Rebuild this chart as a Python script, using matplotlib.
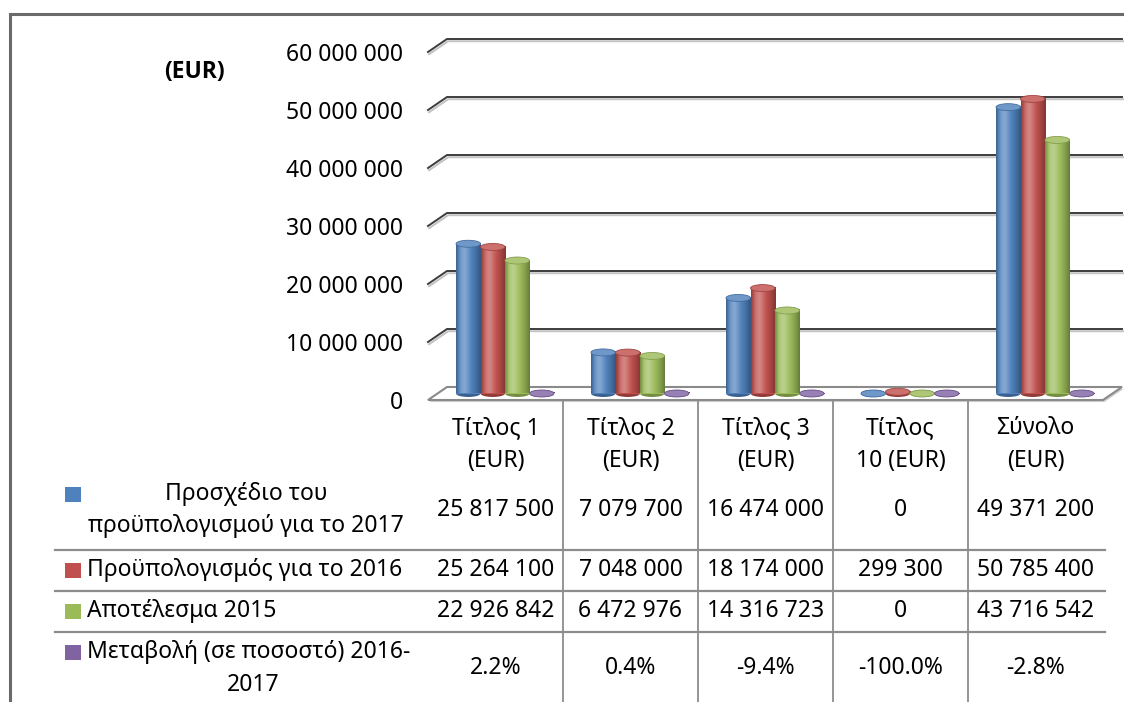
import numpy as np
import matplotlib
matplotlib.use("Agg")
import matplotlib.pyplot as plt
import matplotlib.transforms as mtransforms
from matplotlib.patches import Ellipse, Rectangle, Polygon
from matplotlib.lines import Line2D
import matplotlib.patheffects as pe

# ---------------- data ----------------
categories = ["Τίτλος 1\n(EUR)", "Τίτλος 2\n(EUR)", "Τίτλος 3\n(EUR)",
              "Τίτλος\n10 (EUR)", "Σύνολο\n(EUR)"]
series_names = ["Προσχέδιο του\nπροϋπολογισμού για το 2017",
                "Προϋπολογισμός για το 2016",
                "Αποτέλεσμα 2015",
                "Μεταβολή (σε ποσοστό) 2016-\n2017"]
draft_2017 = [25817500, 7079700, 16474000, 0, 49371200]
budget_2016 = [25264100, 7048000, 18174000, 299300, 50785400]
result_2015 = [22926842, 6472976, 14316723, 0, 43716542]
change_pct = [2.2, 0.4, -9.4, -100.0, -2.8]
y_ticks = [0, 10000000, 20000000, 30000000, 40000000, 50000000, 60000000]
unit_label = "(EUR)"

colors = ["#4F81BD", "#C0504D", "#9BBB59", "#8064A2"]

plt.rcParams['font.family'] = ['Noto Sans', 'DejaVu Sans']
FS = 16.5
TXT = "#000000"

W_PX, H_PX = 1124, 702
fig = plt.figure(figsize=(W_PX / 100, H_PX / 100), dpi=100)
fig.patch.set_facecolor("white")


def fx(px):
    return px / W_PX


def fy(py):
    return 1 - py / H_PX


# front plane of the 3D box: x 428..1103 px, y 400 (0) .. 52 (60M)
ax = fig.add_axes([fx(428), fy(400), 675 / W_PX, 348 / H_PX])
ax.patch.set_alpha(0)
for s in ax.spines.values():
    s.set_visible(False)

YMAX = y_ticks[-1]
ncat = len(categories)
DX = 19 / 135.0                 # depth offset in category units
DY = 13 / 348.0 * YMAX          # depth offset in value units
BW = 24.5 / 135.0               # bar width
EH = 7 / 348.0 * YMAX           # ellipse height (cylinder caps)

# ---- back wall gridlines ----
shadow = [pe.SimpleLineShadow(offset=(0.8, -1.6), shadow_color="#9a9a9a", alpha=0.6), pe.Normal()]
for v in y_ticks[1:]:
    ax.plot([-0.5, -0.5 + DX, ncat - 0.5 + DX], [v, v + DY, v + DY],
            color="#3c3c3c", lw=1.4, clip_on=False, zorder=1,
            solid_joinstyle="miter", path_effects=shadow)

# ---- floor ----
floor = Polygon([(-0.5, 0), (ncat - 0.5, 0), (ncat - 0.5 + DX, DY), (-0.5 + DX, DY)],
                closed=True, facecolor="white", edgecolor="#8a8a8a", lw=1.5,
                zorder=2, clip_on=False,
                path_effects=[pe.SimplePatchShadow(offset=(1, -1.5), shadow_rgbFace="#b0b0b0", alpha=0.6), pe.Normal()])
ax.add_patch(floor)


# ---- cylinders ----
def shade_img(hexcol):
    base = np.array(matplotlib.colors.to_rgb(hexcol))
    t = np.linspace(0, 1, 80)
    hi = 0.30 * np.exp(-((t - 0.33) / 0.20) ** 2)
    dk = 0.34 * np.clip((t - 0.55) / 0.45, 0, 1) ** 1.5 + 0.25 * np.clip((0.15 - t) / 0.15, 0, 1)
    rgb = base[None, :] + hi[:, None] * (1 - base[None, :])
    rgb = rgb * (1 - dk[:, None])
    return np.clip(rgb[None, :, :], 0, 1)


def mix(hexcol, other, f):
    a = np.array(matplotlib.colors.to_rgb(hexcol))
    b = np.array(matplotlib.colors.to_rgb(other))
    return tuple(a * (1 - f) + b * f)


series_vals = [np.array(draft_2017, float), np.array(budget_2016, float),
               np.array(result_2015, float), np.array(change_pct, float) / 100.0]

xc = np.arange(ncat)
for k, vals in enumerate(series_vals):
    xs = xc + (k - 1.5) * BW + DX / 2
    col = colors[k]
    z = 5 + k * 0.1
    # bottom cap
    for x, v in zip(xs, vals):
        ax.add_patch(Ellipse((x, DY / 2), BW, EH, facecolor=mix(col, "black", 0.25),
                             edgecolor="none", zorder=z - 0.05, clip_on=False))
    bars = ax.bar(xs, vals, width=BW, bottom=DY / 2, color=col, linewidth=0,
                  zorder=z, clip_on=False)
    img = shade_img(col)
    for rect, x, v in zip(bars.patches, xs, vals):
        x0, y0 = rect.get_x(), rect.get_y()
        w, h = rect.get_width(), rect.get_height()
        if abs(h) > 0:
            im = ax.imshow(img, extent=[x0, x0 + w, y0, y0 + h], aspect="auto",
                           zorder=z + 0.01, interpolation="bilinear", clip_on=False)
            im.set_clip_path(rect)
        # top cap
        ax.add_patch(Ellipse((x, DY / 2 + v), BW, EH, facecolor=mix(col, "white", 0.18),
                             edgecolor=mix(col, "black", 0.15), lw=0.6, zorder=z + 0.02,
                             clip_on=False))

ax.set_xlim(-0.5, ncat - 0.5)
ax.set_ylim(0, YMAX)
ax.set_xticks([])
ax.set_yticks(y_ticks)
ax.set_yticklabels([f"{int(v):,}".replace(",", " ") for v in y_ticks])
ax.tick_params(axis="y", length=0, pad=18, labelsize=FS, labelcolor=TXT)

# ---- unit label ----
fig.text(fx(194), fy(72), unit_label, ha="center", va="center", fontsize=FS,
         fontweight="bold", color=TXT,
         family=['Open Sans', 'Liberation Sans', 'DejaVu Sans'])

# ---- data table ----
bt = mtransforms.blended_transform_factory(ax.transData, fig.transFigure)
line_col = "#8c8c8c"

for i, lab in enumerate(categories):
    l1, l2 = lab.split("\n")
    ax.text(i, fy(428), l1, transform=bt, ha="center", va="center", fontsize=FS, color=TXT)
    ax.text(i, fy(461), l2, transform=bt, ha="center", va="center", fontsize=FS, color=TXT)

row_y = [510, 570, 611, 668]
table_vals = [
    [f"{v:,}".replace(",", " ") for v in draft_2017],
    [f"{v:,}".replace(",", " ") for v in budget_2016],
    [f"{v:,}".replace(",", " ") for v in result_2015],
    [f"{v:.1f}%" for v in change_pct],
]
for r, vals in enumerate(table_vals):
    for i, s in enumerate(vals):
        ax.text(i, fy(row_y[r]), s, transform=bt, ha="center", va="center",
                fontsize=FS, color=TXT)

# row labels
name_lines = [n.split("\n") for n in series_names]
fig.text(fx(246), fy(494), name_lines[0][0], ha="center", va="center", fontsize=FS, color=TXT)
fig.text(fx(246), fy(526), name_lines[0][1], ha="center", va="center", fontsize=FS, color=TXT)
fig.text(fx(87), fy(570), name_lines[1][0], ha="left", va="center", fontsize=FS, color=TXT)
fig.text(fx(87), fy(611), name_lines[2][0], ha="left", va="center", fontsize=FS, color=TXT)
fig.text(fx(87), fy(652), name_lines[3][0], ha="left", va="center", fontsize=FS, color=TXT)
fig.text(fx(253), fy(685), name_lines[3][1], ha="center", va="center", fontsize=FS, color=TXT)

# legend keys
key_y = [494, 570, 611, 652]
for k, yk in enumerate(key_y):
    fig.add_artist(Rectangle((fx(65), fy(yk + 7.5)), 16 / W_PX, 15 / H_PX,
                             transform=fig.transFigure, facecolor=colors[k], edgecolor="none"))

# horizontal table lines
for yl in [550, 591, 632]:
    fig.add_artist(Line2D([fx(55), fx(1105)], [fy(yl), fy(yl)], color=line_col, lw=1.6,
                          transform=fig.transFigure))
# vertical table lines between categories
for i in range(ncat - 1):
    ax.add_line(Line2D([i + 0.5, i + 0.5], [fy(401), 0], transform=bt, color=line_col,
                       lw=1.3, clip_on=False))

# chart border (left and top visible)
fig.add_artist(Line2D([fx(10), fx(10), fx(1124)], [0, fy(14), fy(14)], color="#6a6a6a",
                      lw=2.2, transform=fig.transFigure, solid_joinstyle="miter"))

fig.savefig("out.png", dpi=100, facecolor="white")
